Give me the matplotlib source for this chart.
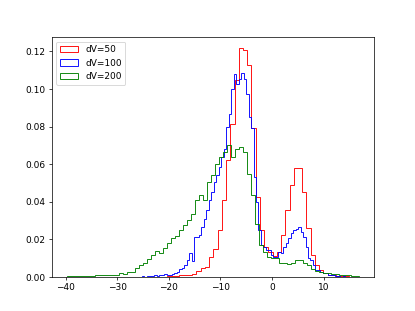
import numpy as np
import matplotlib
matplotlib.use("Agg")
import matplotlib.pyplot as plt

# bin ranges (lo, hi, number of bins)
red_range = (-20.40, 16.50, 45)
blue_range = (-25.20, 14.16, 82)
green_range = (-39.83, 16.82, 73)

# normalised counts per bin
red_vals = [0.0003, 0.0005, 0.0005, 0.0008, 0.0010, 0.0012, 0.0015, 0.0030, 0.0045, 0.0053,
            0.0106, 0.0150, 0.0248, 0.0408, 0.0620, 0.0816, 0.1050, 0.1216, 0.1206, 0.1130,
            0.0790, 0.0426, 0.0248, 0.0160, 0.0130, 0.0110, 0.0133, 0.0220, 0.0355, 0.0488,
            0.0580, 0.0580, 0.0449, 0.0260, 0.0115, 0.0062, 0.0036, 0.0020, 0.0010, 0.0008,
            0.0005, 0.0003, 0.0002, 0.0001, 0.0000]

blue_vals = [0.0003, 0.0000, 0.0003, 0.0005, 0.0005, 0.0007, 0.0005, 0.0007, 0.0010, 0.0014,
             0.0012, 0.0012, 0.0014, 0.0018, 0.0027, 0.0040, 0.0045, 0.0062, 0.0089, 0.0124,
             0.0085, 0.0213, 0.0213, 0.0225, 0.0266, 0.0310, 0.0355, 0.0408, 0.0452, 0.0505,
             0.0540, 0.0585, 0.0638, 0.0680, 0.0798, 0.0869, 0.1002, 0.1082, 0.1029, 0.1055,
             0.1085, 0.1055, 0.0975, 0.0851, 0.0790, 0.0532, 0.0400, 0.0248, 0.0169, 0.0160,
             0.0142, 0.0142, 0.0115, 0.0106, 0.0106, 0.0133, 0.0125, 0.0160, 0.0178, 0.0204,
             0.0231, 0.0248, 0.0257, 0.0266, 0.0240, 0.0213, 0.0160, 0.0098, 0.0089, 0.0062,
             0.0036, 0.0036, 0.0027, 0.0018, 0.0018, 0.0012, 0.0007, 0.0007, 0.0005, 0.0003,
             0.0000, 0.0003]

green_vals = [0.0002, 0.0002, 0.0002, 0.0004, 0.0002, 0.0004, 0.0005, 0.0009, 0.0009, 0.0009,
              0.0007, 0.0007, 0.0009, 0.0018, 0.0014, 0.0025, 0.0027, 0.0045, 0.0062, 0.0071,
              0.0094, 0.0115, 0.0138, 0.0128, 0.0151, 0.0182, 0.0204, 0.0215, 0.0248, 0.0278,
              0.0302, 0.0332, 0.0408, 0.0435, 0.0408, 0.0505, 0.0540, 0.0603, 0.0638, 0.0665,
              0.0700, 0.0638, 0.0683, 0.0690, 0.0665, 0.0550, 0.0435, 0.0280, 0.0169, 0.0130,
              0.0106, 0.0098, 0.0098, 0.0071, 0.0071, 0.0066, 0.0071, 0.0089, 0.0089, 0.0075,
              0.0062, 0.0039, 0.0032, 0.0025, 0.0021, 0.0021, 0.0014, 0.0014, 0.0011, 0.0011,
              0.0009, 0.0005, 0.0004]

labels = ["dV=50", "dV=100", "dV=200"]
colors = ["r", "b", "g"]

fig, ax = plt.subplots(figsize=(6.4, 4.8))
for rng, vals, lab, col in zip([red_range, blue_range, green_range],
                               [red_vals, blue_vals, green_vals], labels, colors):
    edges = np.linspace(rng[0], rng[1], rng[2] + 1)
    ax.hist(edges[:-1], edges, weights=vals, histtype="step", color=col, label=lab)

ax.legend(loc="upper left")
fig.savefig("out.png", dpi=64.85)
